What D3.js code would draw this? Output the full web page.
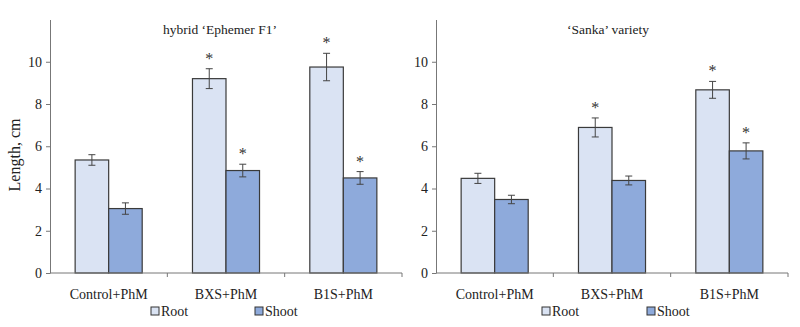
<!DOCTYPE html>
<html>
<head>
<meta charset="utf-8">
<script src="https://cdn.jsdelivr.net/npm/d3@7"></script>
<style>
  body { margin: 0; background: #fff; }
  svg { display: block; font-family: "Liberation Serif", "Times New Roman", serif; }
</style>
</head>
<body>
<svg id="chart" width="800" height="327"></svg>
<script>
    var categories = ['Control+PhM', 'BXS+PhM', 'B1S+PhM'];
    var series = ['Root', 'Shoot'];
    var yTicks = [0, 2, 4, 6, 8, 10];

    // hybrid 'Ephemer F1'
    var ephemerRoot = [5.35, 9.2, 9.75];
    var ephemerShoot = [3.05, 4.85, 4.5];
    var ephemerRootErr = [0.25, 0.47, 0.65];
    var ephemerShootErr = [0.27, 0.3, 0.3];
    var ephemerRootSig = [false, true, true];
    var ephemerShootSig = [false, true, true];

    // 'Sanka' variety
    var sankaRoot = [4.48, 6.89, 8.67];
    var sankaShoot = [3.48, 4.38, 5.78];
    var sankaRootErr = [0.24, 0.45, 0.4];
    var sankaShootErr = [0.2, 0.21, 0.38];
    var sankaRootSig = [false, true, true];
    var sankaShootSig = [false, false, true];

    var colors = {Root: '#dae3f3', Shoot: '#8eaadb'};
    var svg = d3.select('#chart');

    function panel(opts) {
        var g = svg.append('g');
        var x = d3.scaleBand().domain(categories).range([opts.x0, opts.x1]);
        var xs = d3.scaleBand().domain(series).range([0, x.bandwidth()]).paddingOuter(0.75);
        var y = d3.scaleLinear().domain([0, 12]).range([273, 19.5]);

        var rows = [];
        categories.forEach(function(c, i) {
            rows.push({cat: c, s: 'Root', v: opts.root[i], e: opts.rootErr[i], sig: opts.rootSig[i]});
            rows.push({cat: c, s: 'Shoot', v: opts.shoot[i], e: opts.shootErr[i], sig: opts.shootSig[i]});
        });

        // bars
        g.selectAll('rect.bar')
            .data(rows)
            .enter()
            .append('rect')
            .attr('class', 'bar')
            .attr('x', function(d) { return x(d.cat) + xs(d.s); })
            .attr('y', function(d) { return y(d.v); })
            .attr('width', xs.bandwidth())
            .attr('height', function(d) { return y(0) - y(d.v); })
            .attr('fill', function(d) { return colors[d.s]; })
            .attr('stroke', '#3a3a3a')
            .attr('stroke-width', 1.2);

        // error bars
        var eb = g.selectAll('g.err').data(rows).enter().append('g')
            .attr('transform', function(d) { return 'translate(' + (x(d.cat) + xs(d.s) + xs.bandwidth() / 2) + ',0)'; })
            .attr('stroke', '#444')
            .attr('stroke-width', 1);
        eb.append('line')
            .attr('x1', 0).attr('x2', 0)
            .attr('y1', function(d) { return y(d.v + d.e); })
            .attr('y2', function(d) { return y(d.v - d.e); });
        eb.append('line')
            .attr('x1', -3.5).attr('x2', 3.5)
            .attr('y1', function(d) { return y(d.v + d.e); })
            .attr('y2', function(d) { return y(d.v + d.e); });
        eb.append('line')
            .attr('x1', -3.5).attr('x2', 3.5)
            .attr('y1', function(d) { return y(d.v - d.e); })
            .attr('y2', function(d) { return y(d.v - d.e); });

        // asterisks
        g.selectAll('text.sig')
            .data(rows.filter(function(d) { return d.sig; }))
            .enter()
            .append('text')
            .attr('x', function(d) { return x(d.cat) + xs(d.s) + xs.bandwidth() / 2; })
            .attr('y', function(d) { return y(d.v + d.e) - 5; })
            .attr('text-anchor', 'middle')
            .attr('font-size', 16)
            .attr('fill', '#333')
            .text('*');

        // y axis
        var yAxis = g.append('g')
            .attr('transform', 'translate(' + opts.x0 + ',0)')
            .call(d3.axisLeft(y).tickValues(yTicks).tickSize(4).tickPadding(4).tickSizeOuter(0));
        yAxis.select('.domain').attr('stroke', '#777');
        yAxis.selectAll('.tick line').attr('stroke', '#777');
        yAxis.selectAll('.tick text')
            .attr('font-family', '"Liberation Serif", serif')
            .attr('font-size', 14)
            .attr('fill', '#222');

        // x axis with ticks at category boundaries
        var xAxisG = g.append('g');
        xAxisG.append('line')
            .attr('x1', opts.x0).attr('x2', opts.x1)
            .attr('y1', y(0)).attr('y2', y(0))
            .attr('stroke', '#777');
        var bounds = categories.map(function(c) { return x(c); }).concat([opts.x1]);
        xAxisG.selectAll('line.tk')
            .data(bounds.slice(1))
            .enter()
            .append('line')
            .attr('x1', function(d) { return d; })
            .attr('x2', function(d) { return d; })
            .attr('y1', y(0)).attr('y2', y(0) + 4)
            .attr('stroke', '#777');
        xAxisG.selectAll('text.cat')
            .data(categories)
            .enter()
            .append('text')
            .attr('x', function(d) { return x(d) + x.bandwidth() / 2; })
            .attr('y', 299)
            .attr('text-anchor', 'middle')
            .attr('font-size', 14)
            .attr('fill', '#222')
            .text(function(d) { return d; });

        // title
        g.append('text')
            .attr('x', opts.titleX)
            .attr('y', 34)
            .attr('text-anchor', 'middle')
            .attr('font-size', 13.5)
            .attr('fill', '#222')
            .text(opts.title);

        // legend
        var lg = g.selectAll('g.leg')
            .data(series)
            .enter()
            .append('g')
            .attr('transform', function(d, i) { return 'translate(' + opts.legendX[i] + ',307)'; });
        lg.append('rect')
            .attr('width', 8).attr('height', 8)
            .attr('fill', function(d) { return colors[d]; })
            .attr('stroke', '#333')
            .attr('stroke-width', 1);
        lg.append('text')
            .attr('x', 10)
            .attr('y', 9)
            .attr('font-size', 14)
            .attr('fill', '#222')
            .text(function(d) { return d; });
    }

    panel({
        x0: 50, x1: 402,
        root: ephemerRoot, shoot: ephemerShoot,
        rootErr: ephemerRootErr, shootErr: ephemerShootErr,
        rootSig: ephemerRootSig, shootSig: ephemerShootSig,
        title: 'hybrid \u2018Ephemer F1\u2019', titleX: 220,
        legendX: [151, 255]
    });
    panel({
        x0: 436, x1: 788,
        root: sankaRoot, shoot: sankaShoot,
        rootErr: sankaRootErr, shootErr: sankaShootErr,
        rootSig: sankaRootSig, shootSig: sankaShootSig,
        title: '\u2018Sanka\u2019 variety', titleX: 608,
        legendX: [542, 647]
    });

    // y label
    svg.append('text')
        .attr('transform', 'translate(20,155) rotate(-90)')
        .attr('text-anchor', 'middle')
        .attr('font-size', 16)
        .attr('fill', '#222')
        .text('Length, cm');
</script>
</body>
</html>
